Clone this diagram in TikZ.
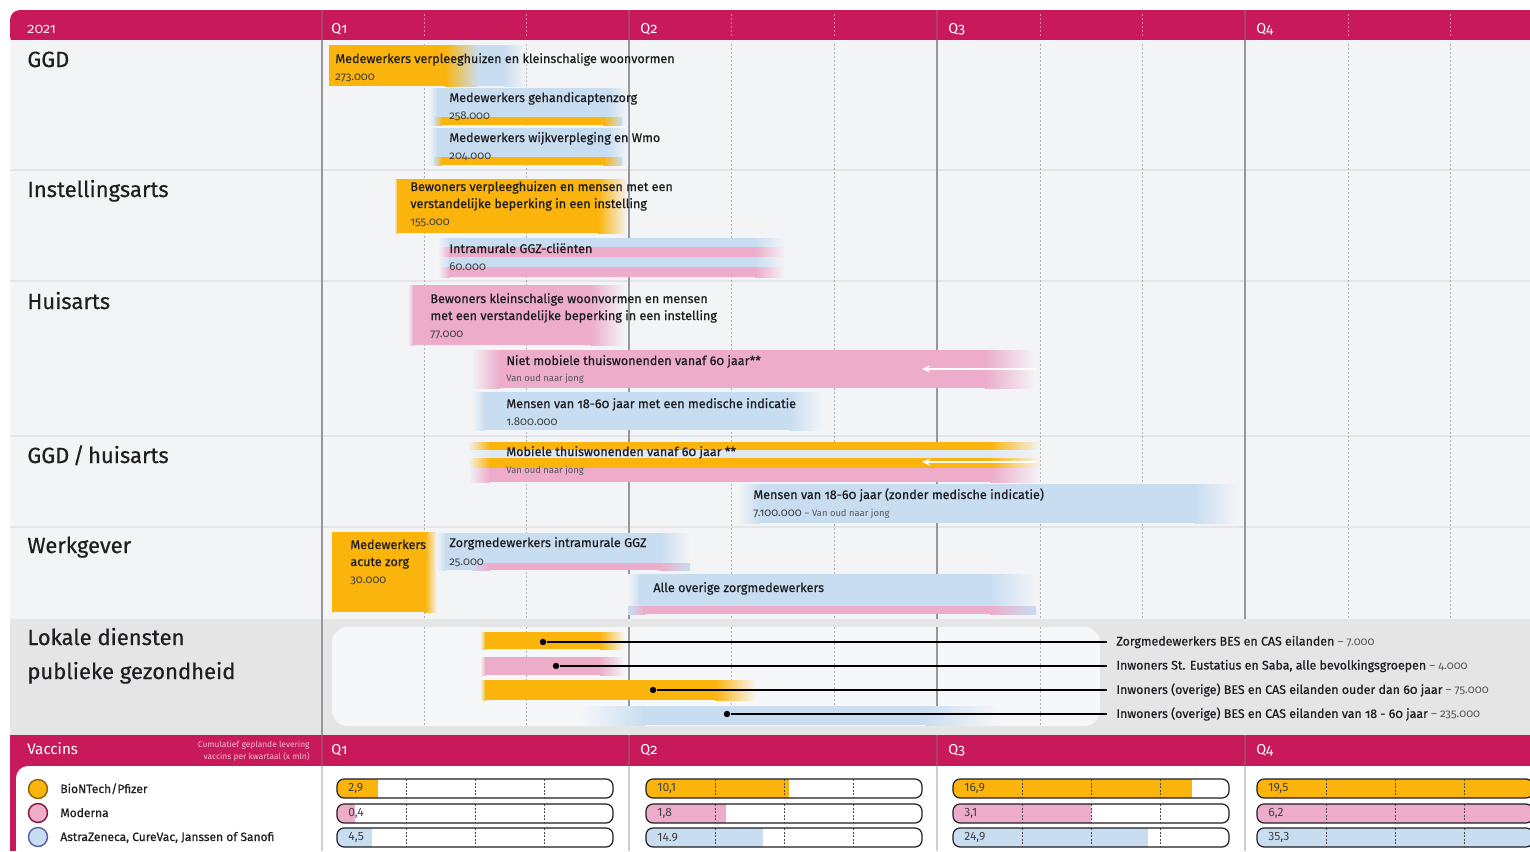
\documentclass[tikz,border=0pt]{standalone}
\usepackage{fontspec}
\setmainfont{Fira Sans}[Numbers=OldStyle]
\newfontfamily\tfont{Fira Sans}[Numbers=OldStyle, FakeBold=0.7]
\newfontfamily\rfont{Fira Sans}[Numbers=OldStyle, FakeBold=0.5]
\usetikzlibrary{arrows.meta}
\definecolor{crim}{RGB}{200,26,90}
\definecolor{org}{RGB}{250,180,12}
\definecolor{pnk}{RGB}{236,172,202}
\definecolor{lblue}{RGB}{200,222,240}
\definecolor{pale}{RGB}{222,232,242}
\definecolor{bodybg}{RGB}{243,244,246}
\definecolor{lokbg}{RGB}{229,229,230}
\definecolor{panelbg}{RGB}{246,247,249}
\definecolor{txt}{RGB}{30,30,35}
\definecolor{qcol}{RGB}{150,150,155}
\definecolor{mcol}{RGB}{175,175,180}
\definecolor{sepcol}{RGB}{228,229,232}
\newcommand\lnumfont{\normalfont\fontsize{5.7}{6}\selectfont\color{txt!75}}
\tikzset{
 rowlab/.style={anchor=base west, inner sep=0pt, font=\rfont\fontsize{11}{13}\selectfont, text=txt},
 hdr/.style={anchor=base west, inner sep=0pt, font=\fontsize{7.2}{8}\selectfont, text=white},
 btitle/.style={anchor=base west, inner sep=0pt, font=\tfont\fontsize{6.3}{7}\selectfont, text=txt},
 bnum/.style={anchor=base west, inner sep=0pt, font=\fontsize{5.7}{6}\selectfont, text=txt!85},
 bsmall/.style={anchor=base west, inner sep=0pt, font=\fontsize{4.7}{5}\selectfont, text=txt!75},
 loklab/.style={anchor=west, inner ysep=0pt, inner xsep=4.5pt, font=\tfont\fontsize{6.2}{7}\selectfont, text=txt},
 dot/.style={circle, fill=black, inner sep=0pt, minimum size=3.2pt},
 conn/.style={draw=black, line width=0.55pt},
 qline/.style={draw=qcol, line width=0.6pt},
 mline/.style={draw=mcol, line width=0.5pt, dash pattern=on 1pt off 1pt},
 hqline/.style={draw=crim!60!gray, line width=0.6pt},
 hmline/.style={draw=crim!55!white, line width=0.5pt, dash pattern=on 1pt off 1pt},
 wharrow/.style={draw=white, line width=0.9pt, -{Stealth[length=4pt,width=3.5pt]}},
 capsout/.style={draw=txt, line width=0.6pt, rounded corners=3.5pt},
 capdiv/.style={draw=txt!80, line width=0.4pt, dash pattern=on 1pt off 0.8pt},
 capval/.style={anchor=west, inner sep=0pt, font=\fontsize{6}{7}\selectfont\addfontfeatures{Numbers=Lining}, text=txt!85},
 leglab/.style={anchor=base west, inner sep=0pt, font=\tfont\fontsize{6}{7}\selectfont, text=txt},
 legc/.style={circle, inner sep=0pt, minimum size=9.5pt, line width=0.7pt},
}
% colour, background, fade-in start, solid start, solid end, fade-out end, top, bottom
\newcommand\band[8]{%
 \shade[left color=#2, right color=#1] (#3,#7) rectangle (#4,#8);
 \shade[left color=#1, right color=#2] (#5,#7) rectangle (#6,#8);
 \fill[#1] ({#4-0.6},#7) rectangle ({#5+0.6},#8);
}
% name, x0, y0, fraction, colour, label
\newcommand\capsule[6]{%
 \begin{scope}
  \clip[rounded corners=3.5pt] (#2,#3) rectangle ({#2+276},{#3+19});
  \fill[white] (#2,#3) rectangle ({#2+276},{#3+19});
  \fill[#5] (#2,#3) rectangle ({#2+(#4)*276},{#3+19});
  \foreach \k in {1,2,3} \draw[capdiv] ({#2+\k*69},#3) -- ({#2+\k*69},{#3+19});
 \end{scope}
 \draw[capsout] (#2,#3) rectangle ({#2+276},{#3+19});
 \node[capval] (#1) at ({#2+11},{#3+9.8}) {#6};
}
\begin{document}
\begin{tikzpicture}[x=0.5pt,y=-0.5pt]
\useasboundingbox (0,0) rectangle (1530,851);
\clip (0,0) rectangle (1530,851);
\fill[white] (0,0) rectangle (1530,851);
% header
\fill[crim, rounded corners=5pt] (10,10) rectangle (1560,46);
\fill[bodybg] (10,40) rectangle (1560,735);
\fill[lokbg] (10,619) rectangle (1560,735);
\fill[panelbg, rounded corners=8pt] (332,627) rectangle (1100,726);
% separators
\foreach \y in {170,281,436,527} \draw[sepcol, line width=1pt] (10,\y) -- (1530,\y);
% grid
\foreach \x in {322,629,937,1245} {\draw[hqline] (\x,10) -- (\x,40); \draw[qline] (\x,40) -- (\x,619);}
\foreach \x in {424,526,731,834,1040,1142,1348,1450} {\draw[hmline] (\x,14) -- (\x,38); \draw[mline] (\x,44) -- (\x,619);}
\draw[qline] (322,619) -- (322,735);
\begin{scope}
 \clip[rounded corners=8pt] (332,627) rectangle (1100,726);
 \foreach \x in {629,937} \draw[qline] (\x,619) -- (\x,735);
 \foreach \x in {424,526,731,834,1040} \draw[mline] (\x,619) -- (\x,735);
\end{scope}
% header texts
\node[hdr, text=white!88!crim] (yr) at (27,33) {2021};
\node[hdr] (hq1) at (331,33) {Q1};
\node[hdr] (hq2) at (640,33) {Q2};
\node[hdr] (hq3) at (948,33) {Q3};
\node[hdr] (hq4) at (1256,33) {Q4};
% row labels
\node[rowlab] (rGGD) at (27,67) {GGD};
\node[rowlab] (rInst) at (27,197) {Instellingsarts};
\node[rowlab] (rHuis) at (27,309) {Huisarts};
\node[rowlab] (rGH) at (27,463) {GGD\,/\,huisarts};
\node[rowlab] (rWerk) at (27,553) {Werkgever};
\node[rowlab] (rLok1) at (27,645) {Lokale diensten};
\node[rowlab] (rLok2) at (27,679) {publieke gezondheid};
% ---- GGD bars
\fill[org] (329,45) rectangle (446,86);
\shade[left color=org, right color=lblue] (445,45) rectangle (478,86);
\fill[lblue] (477,45) rectangle (505,86);
\shade[left color=lblue, right color=bodybg] (504,45) rectangle (526,86);
\band{lblue}{bodybg}{428}{438}{608}{628}{88}{125}
\band{org}{lblue}{434}{442}{603}{622}{117}{125}
\band{lblue}{bodybg}{428}{438}{608}{628}{128}{165}
\band{org}{lblue}{434}{442}{603}{622}{157}{165}
\node[btitle] (g1) at (335,63) {Medewerkers verpleeghuizen en kleinschalige woonvormen};
\node[bnum] (g1n) at (335,80) {273.000};
\node[btitle] (g2) at (449,102) {Medewerkers gehandicaptenzorg};
\node[bnum] (g2n) at (449,119) {258.000};
\node[btitle] (g3) at (449,142) {Medewerkers wijkverpleging en Wmo};
\node[bnum] (g3n) at (449,159) {204.000};
% ---- Instellingsarts
\band{org}{bodybg}{394}{398}{598}{627}{179}{233}
\band{lblue}{bodybg}{438}{450}{755}{785}{238}{247}
\band{pnk}{bodybg}{438}{450}{755}{785}{247}{257}
\band{lblue}{bodybg}{438}{450}{755}{785}{257}{267}
\band{pnk}{bodybg}{438}{450}{755}{785}{267}{277}
\node[btitle] (i1a) at (410,191) {Bewoners verpleeghuizen en mensen met een};
\node[btitle] (i1b) at (410,208) {verstandelijke beperking in een instelling};
\node[bnum] (i1n) at (410,225) {155.000};
\node[btitle] (i2) at (449,253) {Intramurale GGZ-cliënten};
\node[bnum] (i2n) at (449,270) {60.000};
% ---- Huisarts
\band{pnk}{bodybg}{408}{414}{590}{625}{285}{345}
\band{pnk}{bodybg}{471}{500}{985}{1035}{350}{388}
\band{lblue}{bodybg}{472}{485}{790}{822}{392}{430}
\node[btitle] (h1a) at (430,303) {Bewoners kleinschalige woonvormen en mensen};
\node[btitle] (h1b) at (430,320) {met een verstandelijke beperking in een instelling};
\node[bnum] (h1n) at (430,337) {77.000};
\node[btitle] (h2) at (506,365) {Niet mobiele thuiswonenden vanaf 60 jaar**};
\node[bsmall] (h2s) at (506,381) {Van oud naar jong};
\coordinate (ha1) at (1036,369);
\coordinate (ha2) at (922,369);
\draw[wharrow] (ha1) -- (ha2);
\node[btitle] (h3) at (506,408) {Mensen van 18-60 jaar met een medische indicatie};
\node[bnum] (h3n) at (506,425) {1.800.000};
% ---- GGD / huisarts
\band{org}{bodybg}{468}{490}{990}{1040}{442}{450}
\band{pale}{bodybg}{468}{490}{990}{1040}{450}{458}
\band{org}{bodybg}{468}{490}{990}{1040}{458}{468}
\band{pnk}{bodybg}{468}{490}{990}{1040}{468}{482}
\band{lblue}{bodybg}{738}{760}{1195}{1237}{484}{523}
\node[btitle] (m1) at (506,456) {Mobiele thuiswonenden vanaf 60 jaar **};
\node[bsmall] (m1s) at (506,473) {Van oud naar jong};
\coordinate (ma1) at (1036,462);
\coordinate (ma2) at (922,462);
\draw[wharrow] (ma1) -- (ma2);
\node[btitle] (m2) at (753,499) {Mensen van 18-60 jaar (zonder medische indicatie)};
\node[bnum] (m2n) at (753,516) {7.100.000 {\color{txt!75}\fontsize{4.7}{5}\selectfont -- Van oud naar jong}};
% ---- Werkgever
\band{org}{bodybg}{331}{333}{425}{437}{532}{612}
\band{lblue}{bodybg}{436}{446}{660}{690}{533}{570}
\band{pnk}{lblue}{472}{490}{660}{690}{563}{570}
\band{lblue}{bodybg}{628}{640}{990}{1036}{574}{614}
\band{pnk}{lblue}{628}{645}{990}{1036}{606}{614}
\node[btitle] (w1a) at (350,549) {Medewerkers};
\node[btitle] (w1b) at (350,566) {acute zorg};
\node[bnum] (w1n) at (350,583) {30.000};
\node[btitle] (w2) at (449,547) {Zorgmedewerkers intramurale GGZ};
\node[bnum] (w2n) at (449,565) {25.000};
\node[btitle] (w3) at (653,592) {Alle overige zorgmedewerkers};
% ---- Lokale diensten
\band{org}{panelbg}{480}{486}{600}{625}{632}{649}
\band{pnk}{panelbg}{480}{486}{600}{625}{657}{675}
\band{org}{panelbg}{480}{486}{715}{756}{680}{700}
\band{lblue}{panelbg}{580}{645}{925}{1000}{706}{725}
\node[dot] (d1) at (543,642) {};
\node[dot] (d2) at (556,666) {};
\node[dot] (d3) at (653,690) {};
\node[dot] (d4) at (727,714) {};
\node[loklab] (t1) at (1107,642) {Zorgmedewerkers BES en CAS eilanden {\lnumfont -- 7.000}};
\node[loklab] (t2) at (1107,666) {Inwoners St. Eustatius en Saba, alle bevolkingsgroepen {\lnumfont -- 4.000}};
\node[loklab] (t3) at (1107,690) {Inwoners (overige) BES en CAS eilanden ouder dan 60 jaar {\lnumfont -- 75.000}};
\node[loklab] (t4) at (1107,714) {Inwoners (overige) BES en CAS eilanden van 18 - 60 jaar {\lnumfont -- 235.000}};
\draw[conn] (d1) -- (t1);
\draw[conn] (d2) -- (t2);
\draw[conn] (d3) -- (t3);
\draw[conn] (d4) -- (t4);
% ---- Vaccins
\fill[crim] (10,735) rectangle (1560,851);
\fill[white, rounded corners=6pt] (16,766) rectangle (1560,880);
\foreach \x in {322,629,937,1245} {\draw[hqline] (\x,735) -- (\x,766); \draw[draw=crim!25!gray!35, line width=0.6pt] (\x,766) -- (\x,851);}
\node[hdr, font=\fontsize{7.6}{9}\selectfont] (vac) at (27,754) {Vaccins};
\node[anchor=base east, inner sep=0pt, font=\fontsize{4.2}{5}\selectfont, text=white!70!crim] (vs1) at (310,747) {Cumulatief geplande levering};
\node[anchor=base east, inner sep=0pt, font=\fontsize{4.2}{5}\selectfont, text=white!70!crim] (vs2) at (310,759) {vaccins per kwartaal (x mln)};
\node[hdr] (vq1) at (331,754) {Q1};
\node[hdr] (vq2) at (640,754) {Q2};
\node[hdr] (vq3) at (948,754) {Q3};
\node[hdr] (vq4) at (1256,754) {Q4};
\node[legc, fill=org, draw=org!55!black] (c1) at (38,789) {};
\node[legc, fill=pnk, draw=crim!65!black] (c2) at (38,813) {};
\node[legc, fill=lblue, draw=blue!30!gray] (c3) at (38,837) {};
\node[leglab] (l1) at (60,793) {BioNTech/Pfizer};
\node[leglab] (l2) at (60,817) {Moderna};
\node[leglab] (l3) at (60,841) {AstraZeneca, CureVac, Janssen of Sanofi};
\capsule{v11}{337}{779}{2.9/19.5}{org}{2,9}
\capsule{v12}{337}{804}{0.4/6.2}{pnk}{0,4}
\capsule{v13}{337}{828}{4.5/35.3}{lblue}{4,5}
\capsule{v21}{646}{779}{10.1/19.5}{org}{10,1}
\capsule{v22}{646}{804}{1.8/6.2}{pnk}{1,8}
\capsule{v23}{646}{828}{14.9/35.3}{lblue}{14.9}
\capsule{v31}{953}{779}{16.9/19.5}{org}{16,9}
\capsule{v32}{953}{804}{3.1/6.2}{pnk}{3,1}
\capsule{v33}{953}{828}{24.9/35.3}{lblue}{24,9}
\capsule{v41}{1257}{779}{1}{org}{19,5}
\capsule{v42}{1257}{804}{1}{pnk}{6,2}
\capsule{v43}{1257}{828}{1}{lblue}{35,3}
\end{tikzpicture}
\end{document}
